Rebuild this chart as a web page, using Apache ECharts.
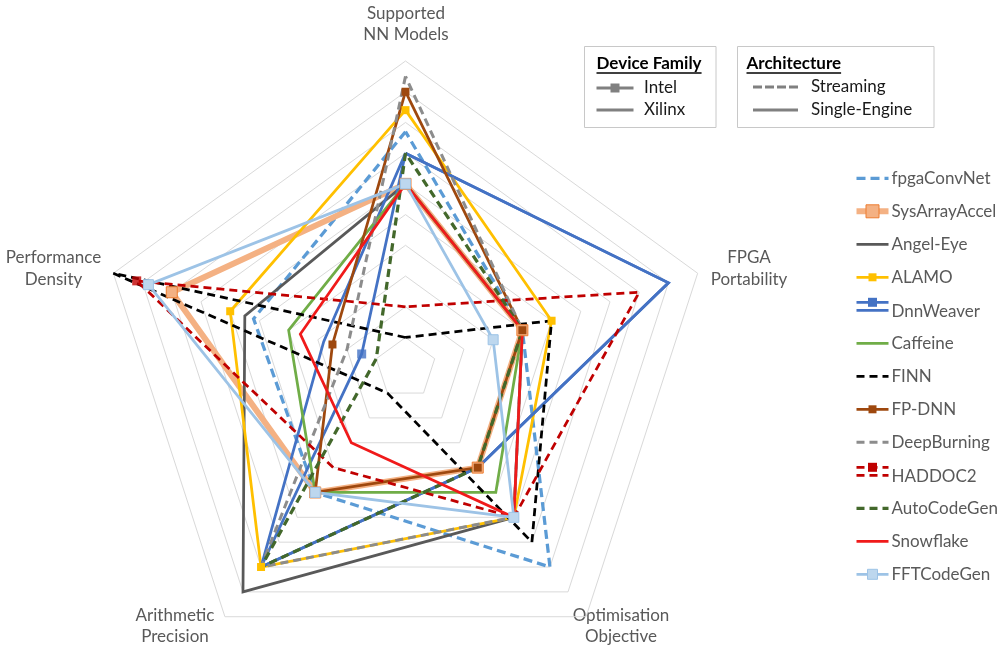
<!DOCTYPE html>
<html><head><meta charset="utf-8">
<script src="https://cdn.jsdelivr.net/npm/echarts@6/dist/echarts.min.js"></script>
<style>html,body{margin:0;padding:0;background:#fff}#chart{width:1006px;height:650px}</style>
</head><body><div id="chart"></div>
<script>
// Indicator order (ECharts places them counter-clockwise from the top)
const indicatorNames = ['Supported\nNN Models', 'Performance\nDensity', 'Arithmetic\nPrecision', 'Optimisation\nObjective', 'FPGA\nPortability'];
const indicatorMax = [10, 10, 10, 10, 10];

const seriesNames = ['fpgaConvNet', 'SysArrayAccel', 'Angel-Eye', 'ALAMO', 'DnnWeaver', 'Caffeine', 'FINN', 'FP-DNN', 'DeepBurning', 'HADDOC2', 'AutoCodeGen', 'Snowflake', 'FFTCodeGen'];

// values: [Supported NN Models, Performance Density, Arithmetic Precision, Optimisation Objective, FPGA Portability]
const fpgaConvNet     = [7.7, 5.2, 5, 8, 4];
const sysArrayAccel   = [6, 8, 5, 4, 4];
const angelEye        = [6, 5.5, 9, 6, 4];
const alamo           = [8.4, 6, 8, 6, 5];
const dnnWeaverIntel  = [7, 1.5, 8, 4, 9];
const dnnWeaverXilinx = [7, 2.8, 8, 4, 9];
const caffeine        = [6, 4, 5, 5, 4];
const finn            = [1, 10, 1, 7, 5];
const fpDnn           = [9, 2.5, 5, 4, 4];
const deepBurning     = [9.5, 2, 8, 6, 4];
const haddoc2         = [2, 9.2, 4, 6, 8];
const autoCodeGen     = [7, 1, 8, 4, 4];
const snowflake       = [6, 3.6, 3, 6, 4];
const fftCodeGen      = [6, 8.8, 5, 6, 3];

// Intel-device markers that sit on a single axis only (indicator index 1 = Performance Density)
const singleMarkers = [['DnnWeaver', dnnWeaverIntel, 1], ['HADDOC2', haddoc2, 1]];

const deviceLegend = ['Intel', 'Xilinx'];
const archLegend = ['Streaming', 'Single-Engine'];

// ---- styles (kept apart from data) ----
const ST = {
  'fpgaConvNet':  {color:'#5B9BD5', width:3.25, dash:[9,5]},
  'SysArrayAccel':{color:'#F4B183', width:6, marker:11, mFill:'#F4B183', mBorder:'#ED7D31'},
  'Angel-Eye':    {color:'#595959', width:2.75},
  'ALAMO':        {color:'#FFC000', width:2.75, marker:8},
  'DnnWeaver':    {color:'#4472C4', width:2.75, marker:9, double:true, single:true},
  'Caffeine':     {color:'#70AD47', width:2.75},
  'FINN':         {color:'#000000', width:2.75, dash:[8,5]},
  'FP-DNN':       {color:'#9E480E', width:2.75, marker:8},
  'DeepBurning':  {color:'#8C8C8C', width:3, dash:[8,5]},
  'HADDOC2':      {color:'#C00000', width:2.75, dash:[8,5], marker:9, double:true, single:true},
  'AutoCodeGen':  {color:'#43682B', width:3.25, dash:[8,5]},
  'Snowflake':    {color:'#F01A1A', width:2.75},
  'FFTCodeGen':   {color:'#9DC3E6', width:2.75, marker:10, mFill:'#BDD7EE', mBorder:'#9DC3E6'}
};

const seriesData = [
  ['fpgaConvNet', fpgaConvNet],
  ['SysArrayAccel', sysArrayAccel],
  ['Angel-Eye', angelEye],
  ['ALAMO', alamo],
  ['DnnWeaver', dnnWeaverIntel],
  ['DnnWeaver', dnnWeaverXilinx],
  ['Caffeine', caffeine],
  ['FINN', finn],
  ['FP-DNN', fpDnn],
  ['DeepBurning', deepBurning],
  ['HADDOC2', haddoc2],
  ['AutoCodeGen', autoCodeGen],
  ['Snowflake', snowflake],
  ['FFTCodeGen', fftCodeGen]
];

const CX = 405.5, CY = 368.2, R = 307.2;
const FONT = 'Lato, "Open Sans", sans-serif';
const TXT = '#595959';

function mkSeries(name, values) {
  const st = ST[name];
  const hasM = st.marker && !st.single;
  return {
    type: 'radar', name: name, silent: true, animation: false,
    symbol: hasM ? 'rect' : 'none', symbolSize: hasM ? st.marker : 0,
    itemStyle: {color: st.mFill || st.color, borderColor: st.mBorder || st.color, borderWidth: st.mBorder ? 1 : 0},
    lineStyle: {color: st.color, width: st.width, type: st.dash || 'solid', join: 'miter'},
    data: [{value: values, name: name}]
  };
}

// measure text widths for underlines
const mctx = document.createElement('canvas').getContext('2d');
function tw(text, font) { mctx.font = font; return mctx.measureText(text).width; }

const g = [];
function line(x1,y1,x2,y2,stroke,w,dash) {
  g.push({type:'line', silent:true, shape:{x1,y1,x2,y2}, style:{stroke, lineWidth:w, lineDash: dash || null}});
}
function square(cx,cy,s,fill,stroke) {
  g.push({type:'rect', silent:true, shape:{x:cx-s/2, y:cy-s/2, width:s, height:s}, style:{fill, stroke: stroke || fill, lineWidth: stroke ? 1 : 0}});
}
function text(x,y,t,opt) {
  opt = opt || {};
  g.push({type:'text', silent:true, x, y, style:{text:t, font: opt.font || ('17px ' + FONT), fill: opt.fill || TXT,
    align: opt.align || 'left', textAlign: opt.align || 'left', verticalAlign:'middle', textVerticalAlign:'middle', lineHeight: opt.lh || 21.5}});
}

// axis names
const namePos = [[406, 23.8], [53.5, 268.3], [175, 626], [621, 626], [749, 268.3]];
indicatorNames.forEach((n, i) => text(namePos[i][0], namePos[i][1], n, {align:'center'}));

// boxes at top
g.push({type:'rect', silent:true, shape:{x:584.5, y:46.5, width:131.5, height:81}, style:{fill:'#fff', stroke:'#C8C8C8', lineWidth:1}});
g.push({type:'rect', silent:true, shape:{x:737.5, y:46.5, width:196.5, height:81}, style:{fill:'#fff', stroke:'#C8C8C8', lineWidth:1}});
const boldF = 'bold 17px ' + FONT;
text(596.5, 63.5, 'Device Family', {font: boldF, fill:'#000'});
line(596.5, 73, 596.5 + tw('Device Family', boldF), 73, '#000', 1.3);
text(746.5, 63.5, 'Architecture', {font: boldF, fill:'#000'});
line(746.5, 73, 746.5 + tw('Architecture', boldF), 73, '#000', 1.3);
// device family items
line(596.5, 88, 633.5, 88, '#808080', 3); square(615, 88, 9, '#808080');
text(644, 88, deviceLegend[0], {fill:'#1a1a1a'});
line(596.5, 110, 633.5, 110, '#808080', 3);
text(644, 110, deviceLegend[1], {fill:'#1a1a1a'});
// architecture items
line(753, 87, 798, 87, '#808080', 3, [9,3]);
text(811, 87, archLegend[0], {fill:'#1a1a1a'});
line(753, 110, 798, 110, '#808080', 3);
text(811, 110, archLegend[1], {fill:'#1a1a1a'});

// series legend
seriesNames.forEach((n, i) => {
  const st = ST[n];
  const y = 178.3 + 33 * i;
  const x1 = 856.5, x2 = 888.5, xm = (x1 + x2) / 2;
  if (st.double) {
    line(x1, y - 8, x2, y - 8, st.color, st.width, st.dash);
    square(xm, y - 8, st.marker, st.mFill || st.color, st.mBorder);
    line(x1, y, x2, y, st.color, st.width, st.dash);
  } else {
    line(x1, y, x2, y, st.color, st.width, st.dash);
    if (st.marker) square(xm, y, st.marker + (n === 'SysArrayAccel' ? 2 : 0), st.mFill || st.color, st.mBorder);
  }
  text(891.5, y + (st.double ? 1 : 0), n);
});

// single-axis markers placed through a hidden polar system that overlays the radar
const markerSeries = singleMarkers.map(m => ({
  type: 'scatter', coordinateSystem: 'polar', silent: true, animation: false,
  symbol: 'rect', symbolSize: ST[m[0]].marker,
  itemStyle: {color: ST[m[0]].color},
  data: [[m[1][m[2]], 90 + 360 / indicatorNames.length * m[2]]]
}));

const chart = echarts.init(document.getElementById('chart'), null, {renderer:'canvas'});
chart.setOption({
  backgroundColor: '#ffffff',
  animation: false,
  radar: {
    center: [CX, CY], radius: R, startAngle: 90, splitNumber: 10, shape: 'polygon',
    indicator: indicatorNames.map((n, i) => ({name: n, min: 0, max: indicatorMax[i]})),
    axisName: {show: false},
    axisLine: {show: false}, axisTick: {show: false}, axisLabel: {show: false},
    splitLine: {lineStyle: {color: '#D9D9D9', width: 1}},
    splitArea: {show: false}
  },
  polar: {center: [CX, CY], radius: R},
  angleAxis: {type: 'value', min: 0, max: 360, startAngle: 0, clockwise: false, show: false},
  radiusAxis: {type: 'value', min: 0, max: 10, show: false},
  series: seriesData.map(s => mkSeries(s[0], s[1])).concat(markerSeries),
  graphic: {elements: g}
});
</script></body></html>
